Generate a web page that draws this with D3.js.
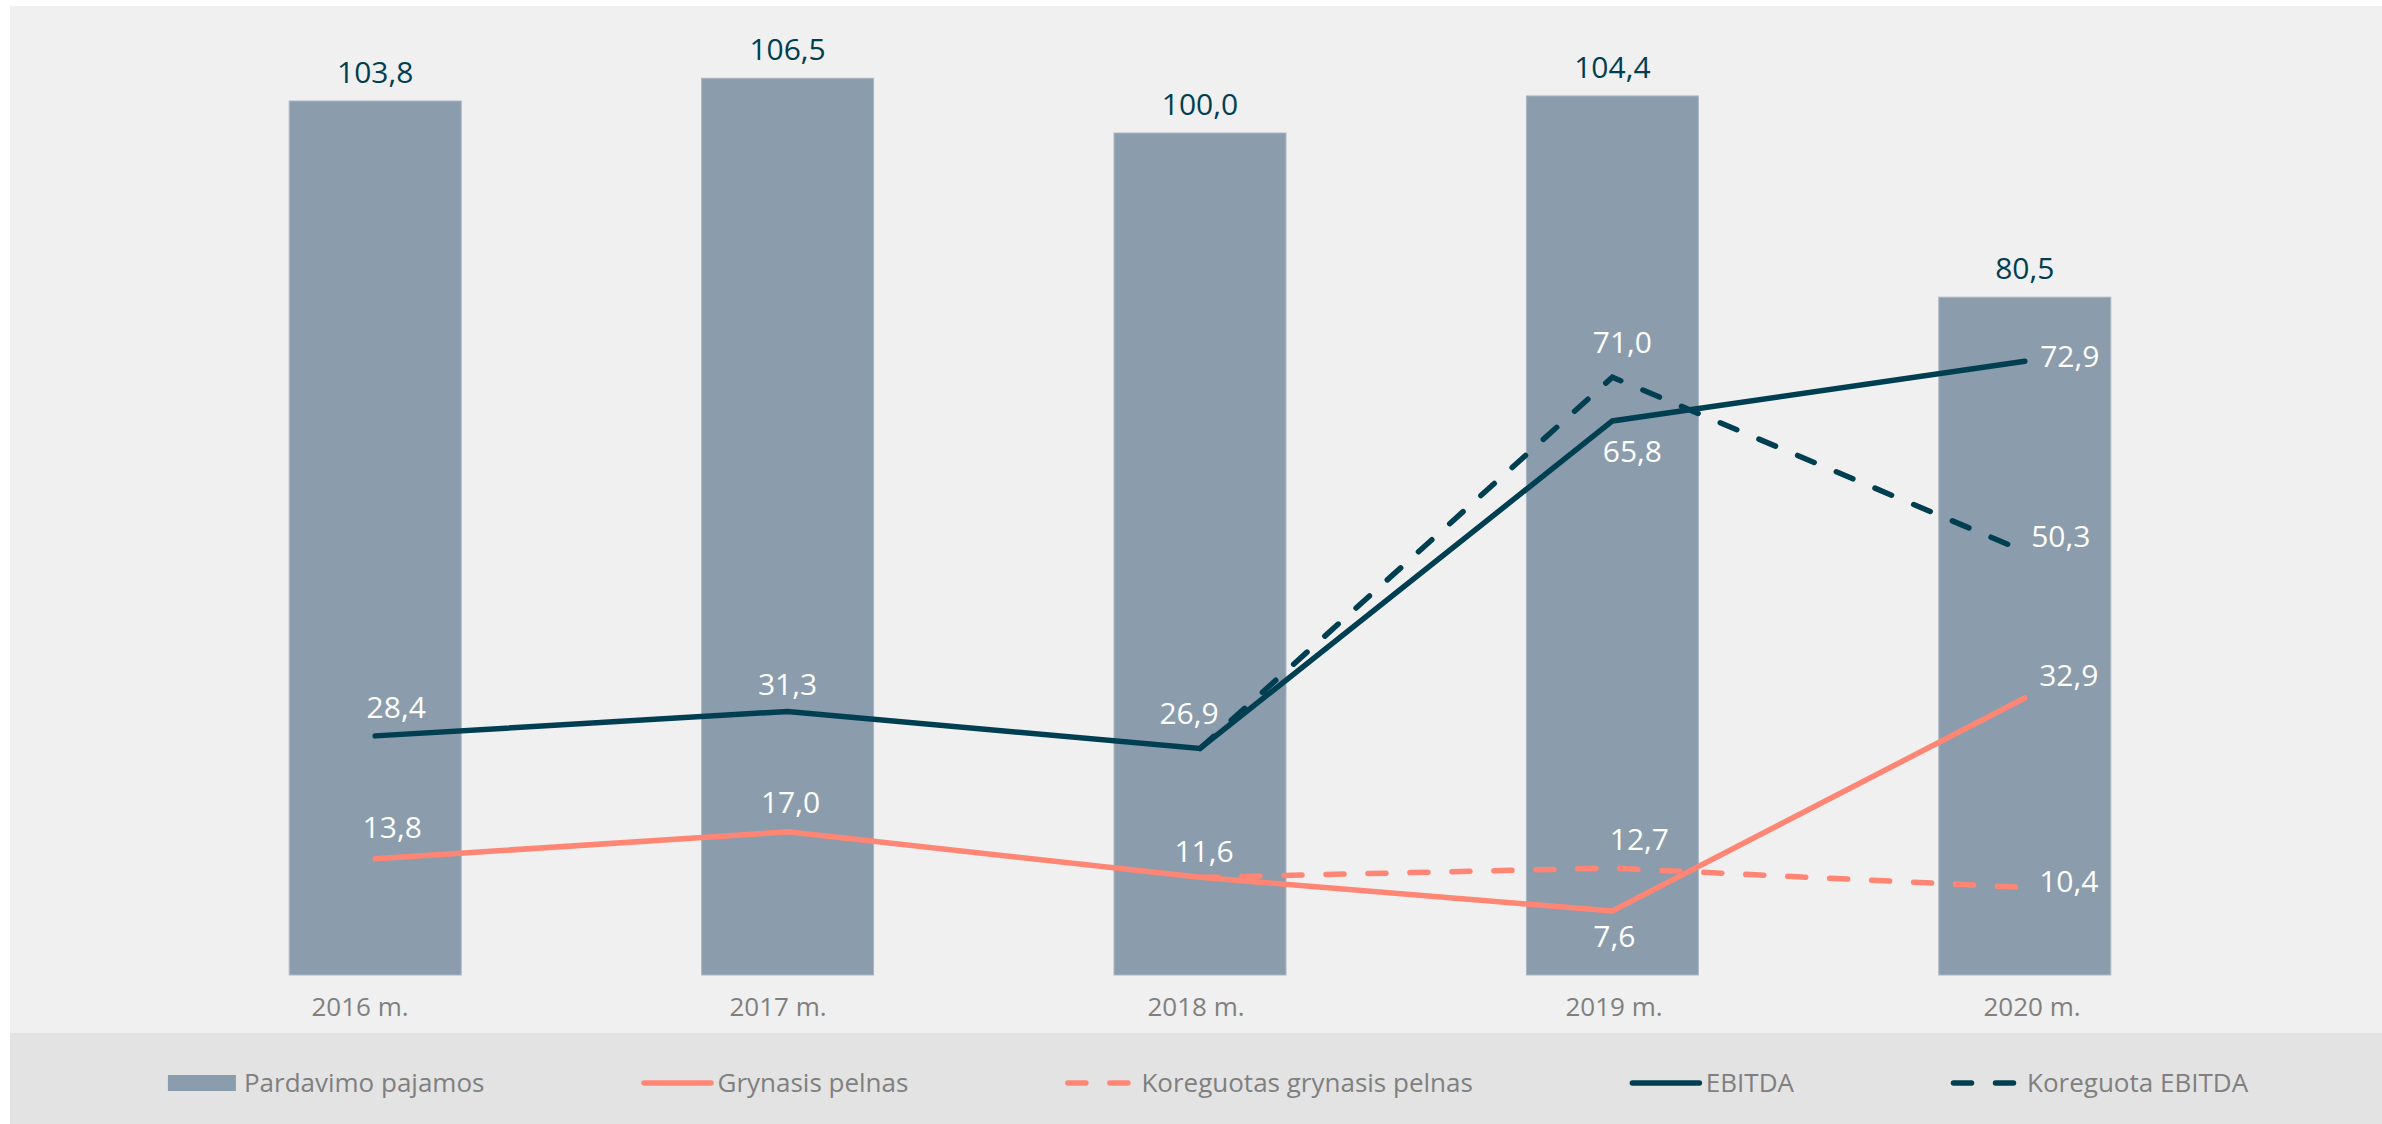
<!DOCTYPE html>
<html>
<head>
<meta charset="utf-8">
<script src="https://cdn.jsdelivr.net/npm/d3@7"></script>
<style>
  html, body { margin: 0; padding: 0; background: #ffffff; }
  svg { display: block; font-family: "Open Sans", "Noto Sans", sans-serif; }
</style>
</head>
<body>
<div id="chart"></div>
<script>

// ------------------------------------------------------------------------ //
// DATA
// ------------------------------------------------------------------------ //

var years = ["2016 m.", "2017 m.", "2018 m.", "2019 m.", "2020 m."]
var adjYears = ["2018 m.", "2019 m.", "2020 m."]

var sales = [103.8, 106.5, 100.0, 104.4, 80.5]          // Pardavimo pajamos
var netProfit = [13.8, 17.0, 11.6, 7.6, 32.9]           // Grynasis pelnas
var adjNetProfit = [11.6, 12.7, 10.4]                   // Koreguotas grynasis pelnas
var ebitda = [28.4, 31.3, 26.9, 65.8, 72.9]             // EBITDA
var adjEbitda = [26.9, 71.0, 50.3]                      // Koreguota EBITDA

var legendNames = ["Pardavimo pajamos", "Grynasis pelnas", "Koreguotas grynasis pelnas", "EBITDA", "Koreguota EBITDA"]

// label nudges (text centre / baseline relative to the point), null = no label
var netLabelNudge = [[17,-21],[3,-19],[4,-15],[2,36],[44,-12]]
var adjNetLabelNudge = [null,[27,-18],[44,5]]
var ebitdaLabelNudge = [[21,-18],[0,-16],[-11,-25],[20,41],[45,6]]
var adjEbitdaLabelNudge = [null,[10,-24],[36,-4]]


// ------------------------------------------------------------------------ //
// SVG AREA
// ------------------------------------------------------------------------ //

var W = 2382, H = 1124
var colBar = "#8b9cac", colNet = "#ff8674", colEbitda = "#003f52"

var svg = d3.select("#chart")
  .append("svg")
    .attr("width", W)
    .attr("height", H)

// plot panel and legend band
svg.append("rect")
  .attr("x", 10).attr("y", 6)
  .attr("width", W - 10).attr("height", 1033 - 6)
  .style("fill", "#f0f0f0")
svg.append("rect")
  .attr("x", 10).attr("y", 1033)
  .attr("width", W - 10).attr("height", H - 1033)
  .style("fill", "#e3e3e3")

var locale = d3.formatLocale({decimal: ",", thousands: " ", grouping: [3], currency: ["", " €"]})
var fmt = locale.format(".1f")


// ------------------------------------------------------------------------ //
// AXIS AND SCALES
// ------------------------------------------------------------------------ //

var x = d3.scaleBand()
  .range([169, 2231])
  .domain(years)
  .paddingInner(0.583)
  .paddingOuter(0.2915)

// category labels sit on a slightly wider spacing than the bars
var xLabels = d3.scaleBand()
  .range([151, 2241])
  .domain(years)

var y = d3.scaleLinear()
  .domain([0, 100])
  .range([975, 975 - 842])

var cx = function(d) { return x(d) + x.bandwidth() / 2 }

var xAxis = svg.append("g")
  .attr("transform", "translate(0,975)")
  .call(d3.axisBottom(xLabels).tickSize(0).tickPadding(23))
xAxis.select(".domain").remove()
xAxis.selectAll("text")
  .style("font-family", "'Open Sans', sans-serif")
  .style("font-size", "26px")
  .style("fill", "#7f7f7f")


// ------------------------------------------------------------------------ //
// BARS
// ------------------------------------------------------------------------ //

svg.selectAll(".bar")
  .data(sales)
  .enter()
  .append("rect")
    .attr("class", "bar")
    .attr("x", function(d, i) { return x(years[i]) })
    .attr("y", function(d) { return y(d) })
    .attr("width", x.bandwidth())
    .attr("height", function(d) { return y(0) - y(d) })
    .style("fill", colBar)
    .style("stroke", "#a9b6c3")
    .style("stroke-width", 1)

svg.selectAll(".barLabel")
  .data(sales)
  .enter()
  .append("text")
    .attr("class", "barLabel")
    .attr("x", function(d, i) { return cx(years[i]) })
    .attr("y", function(d) { return y(d) - 18 })
    .style("text-anchor", "middle")
    .style("font-size", "30px")
    .style("fill", colEbitda)
    .text(function(d) { return fmt(d) })


// ------------------------------------------------------------------------ //
// LINES
// ------------------------------------------------------------------------ //

var series = [
  {cats: years, vals: netProfit, color: colNet, dash: null, nudge: netLabelNudge},
  {cats: adjYears, vals: adjNetProfit, color: colNet, dash: "18,24", nudge: adjNetLabelNudge},
  {cats: years, vals: ebitda, color: colEbitda, dash: null, nudge: ebitdaLabelNudge},
  {cats: adjYears, vals: adjEbitda, color: colEbitda, dash: "18,24", nudge: adjEbitdaLabelNudge}
]

var line = d3.line()
  .x(function(d) { return cx(d[0]) })
  .y(function(d) { return y(d[1]) })

series.forEach(function(s) {
  var pts = s.vals.map(function(v, i) { return [s.cats[i], v] })
  svg.append("path")
    .datum(pts)
    .attr("d", line)
    .style("fill", "none")
    .style("stroke", s.color)
    .style("stroke-width", 5.5)
    .style("stroke-linecap", "round")
    .style("stroke-dasharray", s.dash)
})

// white value labels on top of everything
series.forEach(function(s) {
  var pts = s.vals.map(function(v, i) { return {cat: s.cats[i], v: v, n: s.nudge[i]} })
    .filter(function(p) { return p.n !== null })
  svg.selectAll(null)
    .data(pts)
    .enter()
    .append("text")
      .attr("x", function(p) { return cx(p.cat) + p.n[0] })
      .attr("y", function(p) { return y(p.v) + p.n[1] })
      .style("text-anchor", "middle")
      .style("font-size", "30px")
      .style("fill", "#ffffff")
      .text(function(p) { return fmt(p.v) })
})


// ------------------------------------------------------------------------ //
// LEGEND
// ------------------------------------------------------------------------ //

var legend = svg.append("g")
var legendY = 1083
var cursor = 0

legendNames.forEach(function(name, i) {
  var g = legend.append("g").attr("transform", "translate(" + cursor + ",0)")
  if (i === 0) {
    g.append("rect")
      .attr("x", 0).attr("y", legendY - 8)
      .attr("width", 68).attr("height", 16)
      .style("fill", colBar)
  } else {
    var col = (i < 3) ? colNet : colEbitda
    var dashed = (i === 2 || i === 4)
    g.append("line")
      .attr("x1", 2.5).attr("x2", dashed ? 65.5 : 69.5)
      .attr("y1", legendY).attr("y2", legendY)
      .style("stroke", col)
      .style("stroke-width", 5.5)
      .style("stroke-linecap", "round")
      .style("stroke-dasharray", dashed ? "18,24" : null)
  }
  var t = g.append("text")
    .attr("x", 76)
    .attr("y", legendY + 9)
    .style("font-size", "26px")
    .style("fill", "#7f7f7f")
    .text(name)
  cursor += 76 + t.node().getComputedTextLength() + 157
})

var legendWidth = cursor - 157
legend.attr("transform", "translate(" + (1208 - legendWidth / 2) + ",0)")

</script>
</body>
</html>
